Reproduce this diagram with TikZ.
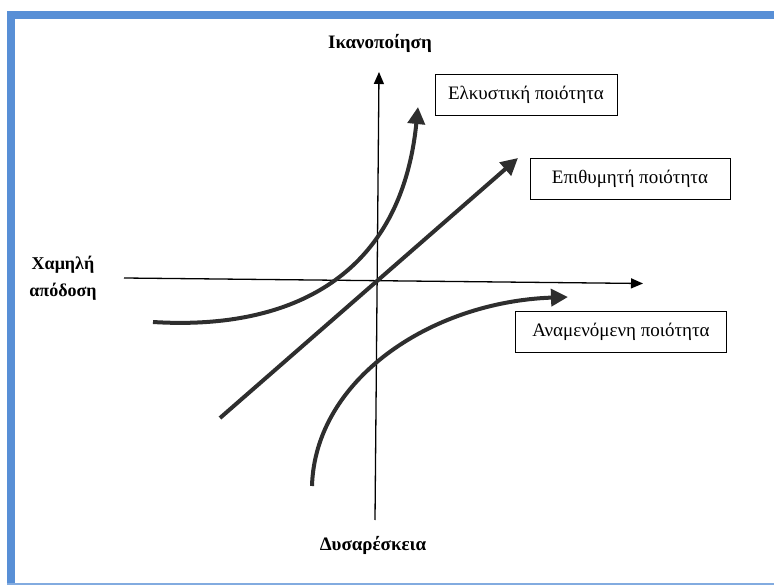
\documentclass[tikz,border=0pt]{standalone}
\usepackage{fontspec}
\setmainfont{Liberation Serif}
\usetikzlibrary{arrows.meta}
\definecolor{frameblue}{RGB}{88,143,214}
\definecolor{curvegray}{RGB}{46,46,46}
\begin{document}
\begin{tikzpicture}[x=1pt,y=-1pt,
  axis/.style={line width=1.3pt, -{Triangle[length=12pt,width=10pt]}},
  qcurve/.style={line width=4pt, draw=curvegray, -{Triangle[length=17pt,width=17pt]}},
  qbox/.style={draw, line width=0.9pt, font=\fontsize{19}{22}\selectfont, inner sep=0pt, minimum height=41pt},
  axlabel/.style={font=\fontsize{19}{27}\selectfont\bfseries, align=center}]
\useasboundingbox (0,0) rectangle (774,585);

% frame
\fill[frameblue] (6.7,11.5) rectangle (774,19.5);
\fill[frameblue] (6.7,11.5) rectangle (15,585);
\fill[frameblue!75] (6.7,582.6) rectangle (774,584.6);

% axis labels
\node[axlabel] (sat) at (380,43) {Ικανοποίηση};
\node[axlabel, font=\fontsize{18}{27}\selectfont\bfseries] (low) at (63,278) {Χαμηλή\\απόδοση};
\node[axlabel] (dis) at (373,545) {Δυσαρέσκεια};

% axes
\coordinate (hL) at (124,278);
\coordinate (hR) at (643,283.5);
\coordinate (vT) at (379,72);
\coordinate (vB) at (375,520);
\draw[axis] (hL) -- (hR);
\draw[axis] (vB) -- (vT);

% quality curves
\coordinate (aS) at (153,322);
\coordinate (aE) at (418,107);
\draw[qcurve] (aS) .. controls (280,330) and (400,285) .. (aE);

\coordinate (dS) at (220,418);
\coordinate (dE) at (518,158);
\draw[qcurve] (dS) -- (dE);

\coordinate (eS) at (312,486);
\coordinate (eE) at (568,297);
\draw[qcurve] (eS) .. controls (315,380) and (430,302) .. (eE);

% labels of the curves
\node[qbox, minimum width=182pt] (att) at (526,95) {Ελκυστική ποιότητα};
\node[qbox, minimum width=200pt] (des) at (630,179) {Επιθυμητή ποιότητα};
\node[qbox, minimum width=211pt] (exp) at (621,332) {Αναμενόμενη ποιότητα};
\end{tikzpicture}
\end{document}
